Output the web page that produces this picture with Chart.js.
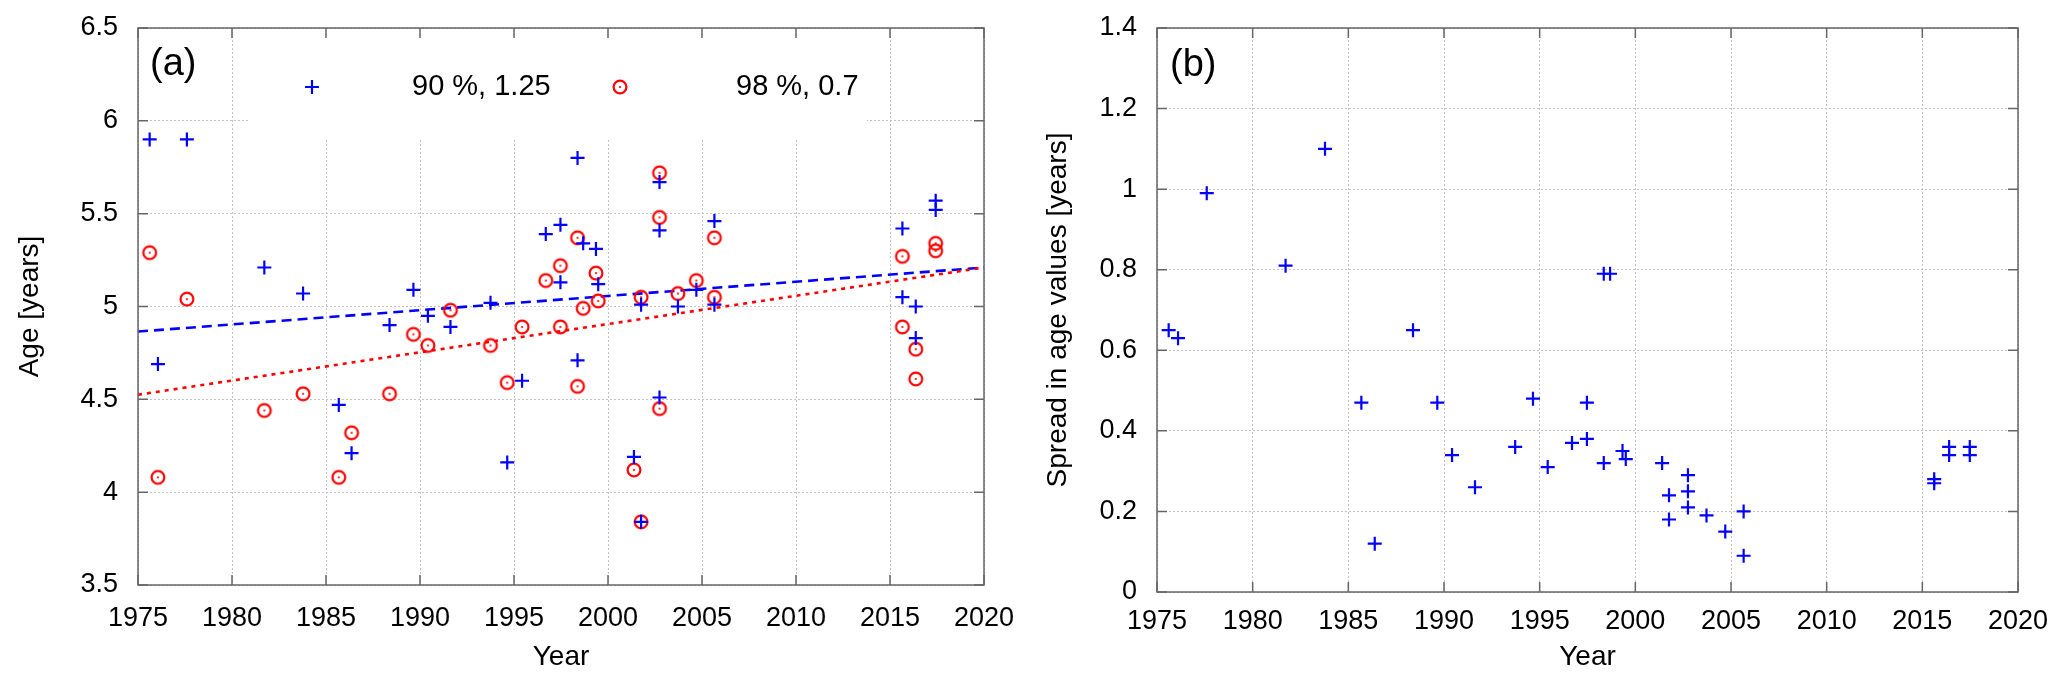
<!DOCTYPE html>
<html><head><meta charset="utf-8">
<script src="https://cdn.jsdelivr.net/npm/chart.js@4.4.1/dist/chart.umd.min.js"></script>
<style>
html,body{margin:0;padding:0;background:#fff;}
#wrap{position:relative;width:2067px;height:692px;overflow:hidden;background:#fff;}
#ca{position:absolute;left:0;top:0;}
#cb{position:absolute;left:1030px;top:0;}
</style></head><body>
<div id="wrap"><canvas id="ca" width="1030" height="692"></canvas><canvas id="cb" width="1037" height="692"></canvas></div>
<script>
// ---- data ----
const years = [1975.62,1976.06,1977.60,1981.72,1983.78,1985.68,1986.36,1988.38,1989.65,1990.42,
  1991.62,1993.75,1994.64,1995.43,1996.69,1997.47,1997.47,1998.38,1998.38,1998.68,
  1999.36,1999.48,2001.38,2001.76,2001.76,2002.74,2002.74,2002.74,2003.72,2004.70,
  2005.66,2005.66,2015.66,2015.66,2016.37,2016.37,2017.43,2017.43];
const age90 = [5.90,4.69,5.90,5.21,5.07,4.47,4.21,4.90,5.09,4.95,
  4.89,5.02,4.16,4.60,5.39,5.44,5.13,5.80,4.71,5.34,
  5.31,5.12,4.19,5.01,3.84,5.67,5.41,4.51,5.00,5.09,
  5.46,5.01,5.42,5.05,5.00,4.83,5.57,5.52];
const age98 = [5.29,4.08,5.04,4.44,4.53,4.08,4.32,4.53,4.85,4.79,
  4.98,4.79,4.59,4.89,5.14,5.22,4.89,5.37,4.57,4.99,
  5.18,5.03,4.12,5.05,3.84,5.72,5.48,4.45,5.07,5.14,
  5.37,5.05,5.27,4.89,4.77,4.61,5.34,5.30];
const spreadYears = [1975.61,1976.10,1977.60,1981.72,1983.78,1985.68,1986.38,1988.38,1989.65,1990.42,
  1991.62,1993.72,1994.65,1995.42,1996.69,1997.47,1997.47,1998.35,1998.35,1998.68,
  1999.33,1999.50,2001.40,2001.76,2001.76,2002.75,2002.75,2002.75,2003.72,2004.70,
  2005.66,2005.66,2015.62,2015.62,2016.40,2016.40,2017.48,2017.48];
const spread = [0.65,0.63,0.99,0.81,1.10,0.47,0.12,0.65,0.47,0.34,
  0.26,0.36,0.48,0.31,0.37,0.47,0.38,0.79,0.32,0.79,
  0.35,0.33,0.32,0.24,0.18,0.29,0.25,0.21,0.19,0.15,
  0.20,0.09,0.28,0.27,0.36,0.34,0.36,0.34];
const trendYears = [1975, 2020];
const trend90 = [4.865, 5.21];
const trend98 = [4.525, 5.21];
const yearTicks = [1975,1980,1985,1990,1995,2000,2005,2010,2015,2020];
const ageTicks = [3.5,4,4.5,5,5.5,6,6.5];
const spreadTicks = [0,0.2,0.4,0.6,0.8,1,1.2,1.4];
const legendLabels = ['90 %, 1.25', '98 %, 0.7'];
const panelLabels = ['(a)', '(b)'];
const xTitle = 'Year';
const yTitleA = 'Age [years]';
const yTitleB = 'Spread in age values [years]';

// ---- styling ----
const FONT = '"Liberation Sans", Arial, Helvetica, sans-serif';
const BLUE = '#0000ff', RED = '#ff0000';
const GRID = '#c2c2c2';

function circleDot() {
  const c = document.createElement('canvas'); c.width = 20; c.height = 20;
  const g = c.getContext('2d');
  g.strokeStyle = RED; g.lineWidth = 2.2;
  g.beginPath(); g.arc(10, 10, 6.4, 0, Math.PI * 2); g.stroke();
  g.fillStyle = RED; g.beginPath(); g.arc(10, 10, 1.1, 0, Math.PI * 2); g.fill();
  return c;
}
const CIRC = circleDot();

const pts = (xs, ys) => xs.map((x, i) => ({x, y: ys[i]}));
const fmt = v => String(Math.round(v * 100) / 100);

const boxPlugin = {
  id: 'box',
  afterDraw(chart) {
    const {ctx, chartArea: a, scales: {x, y}} = chart;
    ctx.save();
    ctx.setLineDash([]);
    ctx.strokeStyle = '#666'; ctx.lineWidth = 1.5;
    ctx.strokeRect(a.left, a.top, a.right - a.left, a.bottom - a.top);
    ctx.beginPath();
    x.ticks.forEach(t => {
      const p = x.getPixelForValue(t.value);
      ctx.moveTo(p, a.bottom); ctx.lineTo(p, a.bottom - 10);
      ctx.moveTo(p, a.top); ctx.lineTo(p, a.top + 10);
    });
    y.ticks.forEach(t => {
      const p = y.getPixelForValue(t.value);
      ctx.moveTo(a.left, p); ctx.lineTo(a.left + 10, p);
      ctx.moveTo(a.right, p); ctx.lineTo(a.right - 10, p);
    });
    ctx.stroke();
    const lab = chart.options.plugins.box.label;
    ctx.fillStyle = '#000'; ctx.font = '38px ' + FONT;
    ctx.textBaseline = 'middle'; ctx.textAlign = 'left';
    ctx.fillText(lab.text, a.left + lab.dx, a.top + lab.dy);
    ctx.restore();
  }
};

const legendPlugin = {
  id: 'legendBox',
  beforeDatasetsDraw(chart) {
    const o = chart.options.plugins.legendBox;
    if (!o || !o.show) return;
    const {ctx, chartArea: a} = chart;
    ctx.save();
    ctx.fillStyle = '#fff';
    ctx.fillRect(250, a.top + 1, 867 - 250, 137 - a.top);
    const cy = 87;
    // cross marker
    ctx.strokeStyle = BLUE; ctx.lineWidth = 2.2; ctx.setLineDash([]);
    ctx.beginPath();
    ctx.moveTo(312 - 7, cy); ctx.lineTo(312 + 7, cy);
    ctx.moveTo(312, cy - 7); ctx.lineTo(312, cy + 7);
    ctx.stroke();
    ctx.drawImage(CIRC, 620 - 10, cy - 10);
    ctx.fillStyle = '#000'; ctx.font = '29px ' + FONT;
    ctx.textBaseline = 'middle'; ctx.textAlign = 'left';
    ctx.fillText(legendLabels[0], 412, cy);
    ctx.fillText(legendLabels[1], 736, cy);
    ctx.restore();
  }
};

function xScale(h, pad) {
  return {
    type: 'linear', position: 'bottom', min: 1975, max: 2020,
    afterBuildTicks: s => { s.ticks = yearTicks.map(v => ({value: v})); },
    afterFit: s => { s.height = h; s.paddingLeft = 0; s.paddingRight = 0; },
    grid: {color: GRID, lineWidth: 1, drawTicks: false},
    border: {display: false, dash: [2, 2]},
    ticks: {padding: pad, color: '#000', font: {family: FONT, size: 27}, callback: v => String(v), maxRotation: 0, autoSkip: false},
    title: {display: true, text: xTitle, color: '#000', font: {family: FONT, size: 28}, padding: {top: 0, bottom: 18}}
  };
}
function yScale(w, min, max, tickArr, title, tpad) {
  return {
    type: 'linear', position: 'left', min, max,
    afterBuildTicks: s => { s.ticks = tickArr.map(v => ({value: v})); },
    afterFit: s => { s.width = w; s.paddingTop = 0; s.paddingBottom = 0; },
    grid: {color: GRID, lineWidth: 1, drawTicks: false},
    border: {display: false, dash: [2, 2]},
    ticks: {padding: 20, color: '#000', font: {family: FONT, size: 27}, callback: fmt, autoSkip: false},
    title: {display: true, text: title, color: '#000', font: {family: FONT, size: 28}, padding: {top: tpad, bottom: 0}}
  };
}

new Chart(document.getElementById('ca'), {
  type: 'scatter',
  data: {
    datasets: [
      {label: legendLabels[0], data: pts(years, age90), pointStyle: 'cross', radius: 7, borderWidth: 2.2, borderColor: BLUE, backgroundColor: BLUE, order: 0},
      {label: legendLabels[1], data: pts(years, age98), pointStyle: CIRC, radius: 7, borderColor: RED, backgroundColor: RED, order: 1},
      {label: 'fit90', data: pts(trendYears, trend90), showLine: true, pointRadius: 0, borderColor: BLUE, borderWidth: 2.6, borderDash: [10, 6], order: 3},
      {label: 'fit98', data: pts(trendYears, trend98), showLine: true, pointRadius: 0, borderColor: RED, borderWidth: 2.6, borderDash: [4, 5], order: 2}
    ]
  },
  options: {
    responsive: false, animation: false, devicePixelRatio: 1,
    layout: {padding: {left: 0, top: 28, right: 46, bottom: 0}},
    scales: {x: xScale(107, 17), y: yScale(138, 3.5, 6.5, ageTicks, yTitleA, 13)},
    plugins: {legend: {display: false}, tooltip: {enabled: false},
      box: {label: {text: panelLabels[0], dx: 12, dy: 37}},
      legendBox: {show: true}}
  },
  plugins: [legendPlugin, boxPlugin]
});

new Chart(document.getElementById('cb'), {
  type: 'scatter',
  data: {
    datasets: [
      {label: 'spread', data: pts(spreadYears, spread), pointStyle: 'cross', radius: 7, borderWidth: 2.2, borderColor: BLUE, backgroundColor: BLUE}
    ]
  },
  options: {
    responsive: false, animation: false, devicePixelRatio: 1,
    layout: {padding: {left: 0, top: 28, right: 49, bottom: 0}},
    scales: {x: xScale(100, 13), y: yScale(127, 0, 1.4, spreadTicks, yTitleB, 11)},
    plugins: {legend: {display: false}, tooltip: {enabled: false},
      box: {label: {text: panelLabels[1], dx: 13, dy: 38}},
      legendBox: {show: false}}
  },
  plugins: [legendPlugin, boxPlugin]
});
</script>
</body></html>
